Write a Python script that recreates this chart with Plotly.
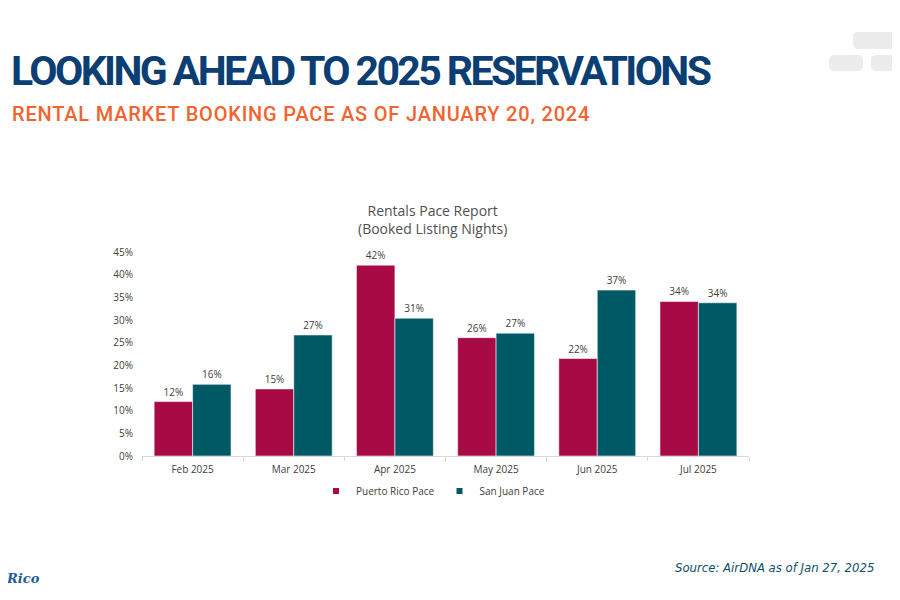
import plotly.graph_objects as go

W, H = 900, 600
OFF = 8  # page offset of the figure in the browser
# target plot-area edges in screen pixels
SL, SR, ST, SB = 142, 749, 252, 456
L, T = SL - OFF, ST - OFF
R, B = W - (SR - OFF), H - (SB - OFF)

months = ["Feb 2025", "Mar 2025", "Apr 2025", "May 2025", "Jun 2025", "Jul 2025"]
pr_values = [0.120, 0.148, 0.421, 0.261, 0.215, 0.341]
sj_values = [0.158, 0.267, 0.304, 0.271, 0.366, 0.338]
pr_labels = ["12%", "15%", "42%", "26%", "22%", "34%"]
sj_labels = ["16%", "27%", "31%", "27%", "37%", "34%"]
y_ticks = [0, 0.05, 0.10, 0.15, 0.20, 0.25, 0.30, 0.35, 0.40, 0.45]
y_tick_labels = ["0%", "5%", "10%", "15%", "20%", "25%", "30%", "35%", "40%", "45%"]

PR_COLOR = "#A80A45"
SJ_COLOR = "#005A66"
TXT = "#404040"
BODY_FONT = "Open Sans, Noto Sans, sans-serif"
HEAD_FONT = "Roboto, Liberation Sans, sans-serif"


def px(x):
    return (x - OFF - L) / (W - L - R)


def py(y):
    return (H - B - (y - OFF)) / (H - T - B)


def blob(x0, y0, x1, y1, r=5):
    # rounded rectangle path in paper coordinates (screen pixels in)
    pts = [
        f"M{px(x0 + r)},{py(y0)}",
        f"L{px(x1 - r)},{py(y0)}",
        f"Q{px(x1)},{py(y0)} {px(x1)},{py(y0 + r)}",
        f"L{px(x1)},{py(y1 - r)}",
        f"Q{px(x1)},{py(y1)} {px(x1 - r)},{py(y1)}",
        f"L{px(x0 + r)},{py(y1)}",
        f"Q{px(x0)},{py(y1)} {px(x0)},{py(y1 - r)}",
        f"L{px(x0)},{py(y0 + r)}",
        f"Q{px(x0)},{py(y0)} {px(x0 + r)},{py(y0)}",
        "Z",
    ]
    return dict(type="path", xref="paper", yref="paper", path=" ".join(pts),
                fillcolor="#ECECEC", line=dict(width=0), layer="below")


fig = go.Figure()
fig.add_trace(go.Bar(
    x=months, y=pr_values, name="Puerto Rico Pace", showlegend=False,
    marker=dict(color=PR_COLOR, line=dict(color="rgba(255,255,255,0.55)", width=1)),
    text=pr_labels, textposition="outside", cliponaxis=False,
    textfont=dict(size=10, color=TXT, family=BODY_FONT),
))
fig.add_trace(go.Bar(
    x=months, y=sj_values, name="San Juan Pace", showlegend=False,
    marker=dict(color=SJ_COLOR, line=dict(color="rgba(255,255,255,0.55)", width=1)),
    text=sj_labels, textposition="outside", cliponaxis=False,
    textfont=dict(size=10, color=TXT, family=BODY_FONT),
))
for name, color in [("Puerto Rico Pace", PR_COLOR), ("San Juan Pace", SJ_COLOR)]:
    fig.add_trace(go.Scatter(
        x=[None], y=[None], mode="markers", name=name,
        marker=dict(symbol="square", size=6, color=color),
    ))

annotations = [
    dict(text="<span style='letter-spacing:-2.6px'>LOOKING AHEAD TO 2025 RESERVATIONS</span>",
         x=px(9), y=py(71), xanchor="left", yanchor="middle", showarrow=False,
         font=dict(family=HEAD_FONT, size=41, color="#0B3F73", weight=700)),
    dict(text="<span style='letter-spacing:0.8px'>RENTAL MARKET BOOKING PACE AS OF JANUARY 20, 2024</span>",
         x=px(10), y=py(114), xanchor="left", yanchor="middle", showarrow=False,
         font=dict(family=HEAD_FONT, size=20, color="#F2642F", weight=500)),
    dict(text="Rentals Pace Report<br>(Booked Listing Nights)", x=px(432), y=py(220),
         xanchor="center", yanchor="middle", showarrow=False,
         font=dict(family=BODY_FONT, size=14, color="#505050")),
    dict(text="<i>Source: AirDNA as of Jan 27, 2025</i>", x=px(876), y=py(567),
         xanchor="right", yanchor="middle", showarrow=False,
         font=dict(family="DejaVu Sans Condensed, DejaVu Sans, sans-serif", size=13, color="#0B4F6C")),
    dict(text="<b><i>Rico</i></b>", x=px(4), y=py(578),
         xanchor="left", yanchor="middle", showarrow=False,
         font=dict(family="DejaVu Serif, serif", size=13, color="#1E5D9A")),
]
for a in annotations:
    a["xref"] = "paper"
    a["yref"] = "paper"

shapes = [blob(853, 32, 906, 49), blob(829, 55, 863, 71), blob(871, 55, 906, 71)]

fig.update_layout(
    width=W, height=H,
    margin=dict(l=L, r=R, t=T, b=B, autoexpand=False),
    paper_bgcolor="white", plot_bgcolor="white",
    barmode="group", bargap=0.24, bargroupgap=0,
    showlegend=True,
    legend=dict(orientation="h", x=px(433), y=py(491), xanchor="center", yanchor="middle",
                font=dict(family=BODY_FONT, size=10, color=TXT),
                itemwidth=30, tracegroupgap=0, bgcolor="rgba(0,0,0,0)"),
    annotations=annotations,
    shapes=shapes,
    xaxis=dict(
        showline=True, linecolor="#D9D9D9", linewidth=1,
        ticks="outside", tickson="boundaries", ticklen=4, tickcolor="#D9D9D9",
        tickfont=dict(family=BODY_FONT, size=10, color=TXT),
        ticklabelstandoff=4,
        showgrid=False, fixedrange=True,
    ),
    yaxis=dict(
        range=[0, 0.45], tickvals=y_ticks, ticktext=y_tick_labels,
        tickfont=dict(family=BODY_FONT, size=10, color=TXT),
        showgrid=False, zeroline=False, showline=False,
        ticklabelstandoff=8, fixedrange=True,
    ),
)

fig.write_html("out.html")
